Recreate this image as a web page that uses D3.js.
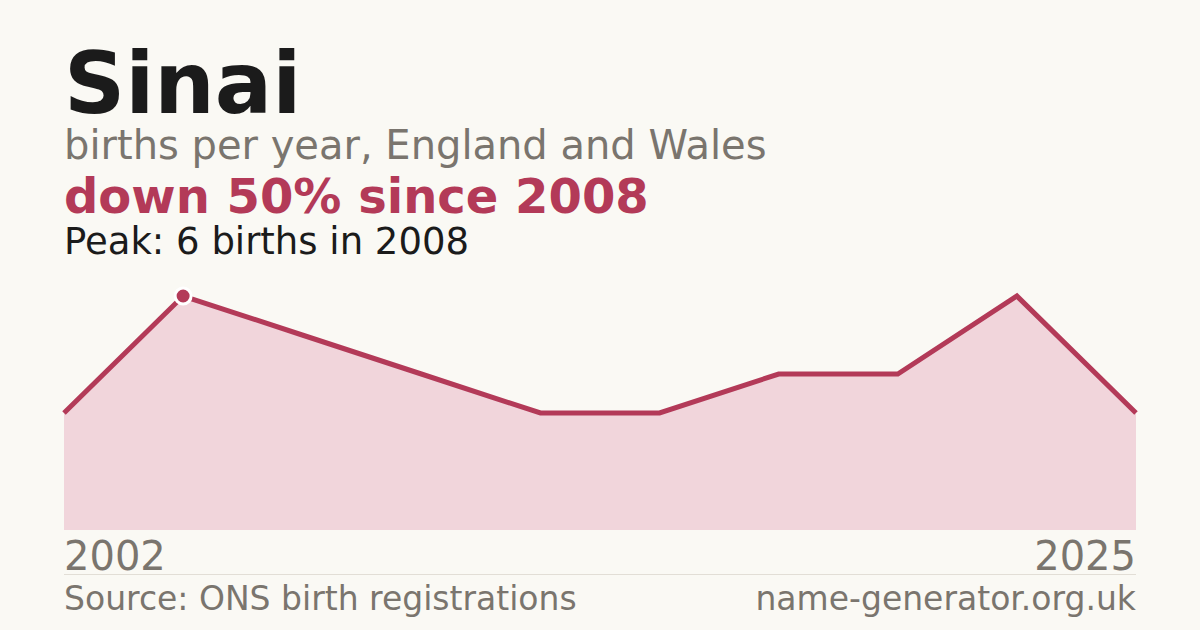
<!DOCTYPE html>
<html>
<head>
<meta charset="utf-8">
<script src="https://cdn.jsdelivr.net/npm/d3@7"></script>
<style>
  html, body { margin: 0; padding: 0; background: #faf9f4; }
  svg { display: block; font-family: "DejaVu Sans", sans-serif; }
</style>
</head>
<body>
<script>
// years with a published count (suppressed years left out)
var years = [2002, 2008, 2010, 2012, 2015, 2017, 2019, 2021, 2023, 2025];
var births = [3, 6, 5, 4, 3, 3, 4, 4, 6, 3];
var tickLabels = ["2002", "2025"];

var W = 1200, H = 630;
var margin = {left: 64, right: 64};
var chartTop = 296, chartBottom = 530;

var svg = d3.select("body").append("svg")
  .attr("width", W)
  .attr("height", H);

svg.append("rect").attr("width", W).attr("height", H).attr("fill", "#faf9f4");

// heading text
svg.append("text").attr("x", 64).attr("y", 113)
  .attr("font-size", 85).attr("font-weight", "bold").attr("fill", "#1b1b1b")
  .text("Sinai");
svg.append("text").attr("x", 64).attr("y", 159)
  .attr("font-size", 40).attr("fill", "#7a756e")
  .text("births per year, England and Wales");
svg.append("text").attr("x", 64).attr("y", 213)
  .attr("font-size", 48).attr("font-weight", "bold").attr("fill", "#b33a58")
  .text("down 50% since 2008");
svg.append("text").attr("x", 64).attr("y", 254)
  .attr("font-size", 37).attr("fill", "#1b1b1b")
  .text("Peak: 6 births in 2008");

var data = years.map(function(y, i) { return {year: y, value: births[i]}; });

var x = d3.scalePoint().domain(years).range([margin.left, W - margin.right]);
var y = d3.scaleLinear().domain([0, d3.max(births)]).range([chartBottom, chartTop]);

var area = d3.area()
  .x(function(d) { return x(d.year); })
  .y0(chartBottom)
  .y1(function(d) { return y(d.value); });

var line = d3.line()
  .x(function(d) { return x(d.year); })
  .y(function(d) { return y(d.value); });

svg.append("path").datum(data)
  .attr("d", area)
  .attr("fill", "#f1d5db");

svg.append("path").datum(data)
  .attr("d", line)
  .attr("fill", "none")
  .attr("stroke", "#b33a58")
  .attr("stroke-width", 5)
  .attr("stroke-linejoin", "miter");

// peak marker
var peak = data[d3.maxIndex(births)];
svg.append("circle")
  .attr("cx", x(peak.year)).attr("cy", y(peak.value))
  .attr("r", 8)
  .attr("fill", "#b33a58")
  .attr("stroke", "#ffffff")
  .attr("stroke-width", 3);

// first / last year labels
svg.append("text").attr("x", x(years[0])).attr("y", 570)
  .attr("font-size", 40).attr("fill", "#7a756e")
  .text(tickLabels[0]);
svg.append("text").attr("x", x(years[years.length - 1])).attr("y", 570)
  .attr("text-anchor", "end")
  .attr("font-size", 40).attr("fill", "#7a756e")
  .text(tickLabels[1]);

svg.append("line")
  .attr("x1", 64).attr("x2", W - 64)
  .attr("y1", 574.5).attr("y2", 574.5)
  .attr("stroke", "#e2ded6").attr("stroke-width", 1);

svg.append("text").attr("x", 64).attr("y", 610)
  .attr("font-size", 33).attr("fill", "#7a756e")
  .text("Source: ONS birth registrations");
svg.append("text").attr("x", W - 64).attr("y", 610)
  .attr("text-anchor", "end")
  .attr("font-size", 33).attr("fill", "#7a756e")
  .text("name-generator.org.uk");
</script>
</body>
</html>
